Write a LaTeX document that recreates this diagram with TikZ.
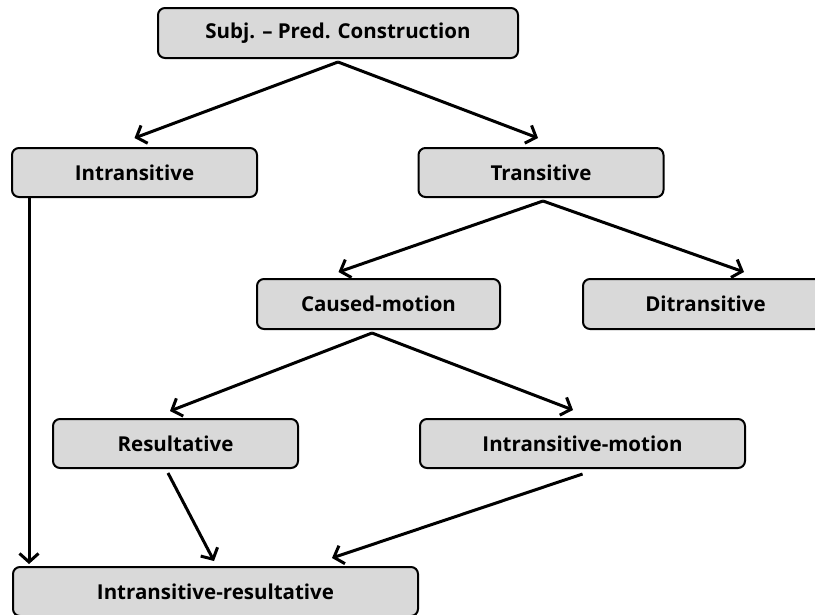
\documentclass[tikz,border=0pt]{standalone}
\usepackage{fontspec}
\setmainfont{Open Sans}
\usetikzlibrary{arrows.meta}
\definecolor{boxfill}{HTML}{D9D9D9}
\tikzset{
  box/.style={draw=black, line width=2pt, fill=boxfill, rounded corners=7pt,
    minimum width=245pt, minimum height=49pt, inner sep=0pt,
    font=\fontsize{20.5}{24}\selectfont\bfseries},
  arr/.style={line width=3pt, -{Straight Barb[length=8.5pt,width=19pt]}}
}
\begin{document}
\begin{tikzpicture}[x=1pt,y=-1pt]
\clip (0,0) rectangle (815,614);
\fill[white] (0,0) rectangle (815,614);
\node[box, minimum width=360pt, minimum height=50pt] (subj) at (338,33) {Subj. – Pred. Construction};
\node[box] (intr) at (134.5,172.5) {Intransitive};
\node[box] (trans) at (541,172.5) {Transitive};
\node[box, minimum width=243pt, minimum height=50pt] (caused) at (378.5,304) {Caused-motion};
\node[box, minimum height=50pt] (ditr) at (705.5,304) {Ditransitive};
\node[box] (result) at (175.5,443.5) {Resultative};
\node[box, minimum width=325pt] (im) at (582.5,443.5) {Intransitive-motion};
\node[box, minimum width=405pt] (ir) at (215.5,591.5) {Intransitive-resultative};
\draw[arr] ([yshift=-3pt]subj.south) -- ([yshift=9pt]intr.north);
\draw[arr] ([yshift=-3pt]subj.south) -- ([xshift=-3pt,yshift=9pt]trans.north);
\draw[arr] ([xshift=2pt,yshift=-3pt]trans.south) -- ([xshift=-40pt,yshift=6pt]caused.north);
\draw[arr] ([xshift=2pt,yshift=-3pt]trans.south) -- ([xshift=38.5pt,yshift=6pt]ditr.north);
\draw[arr] ([xshift=-6.5pt,yshift=-3pt]caused.south) -- ([xshift=-5.5pt,yshift=7pt]result.north);
\draw[arr] ([xshift=-6.5pt,yshift=-3pt]caused.south) -- ([xshift=-9.5pt,yshift=8pt]im.north);
\draw[arr] ([xshift=18pt]intr.south west) -- ([xshift=17pt,yshift=2pt]ir.north west);
\draw[arr] ([xshift=-7.5pt,yshift=-4pt]result.south) -- ([xshift=-1.5pt,yshift=5pt]ir.north);
\draw[arr] ([yshift=-5pt]im.south) -- ([xshift=116.5pt,yshift=8pt]ir.north);
\end{tikzpicture}
\end{document}
